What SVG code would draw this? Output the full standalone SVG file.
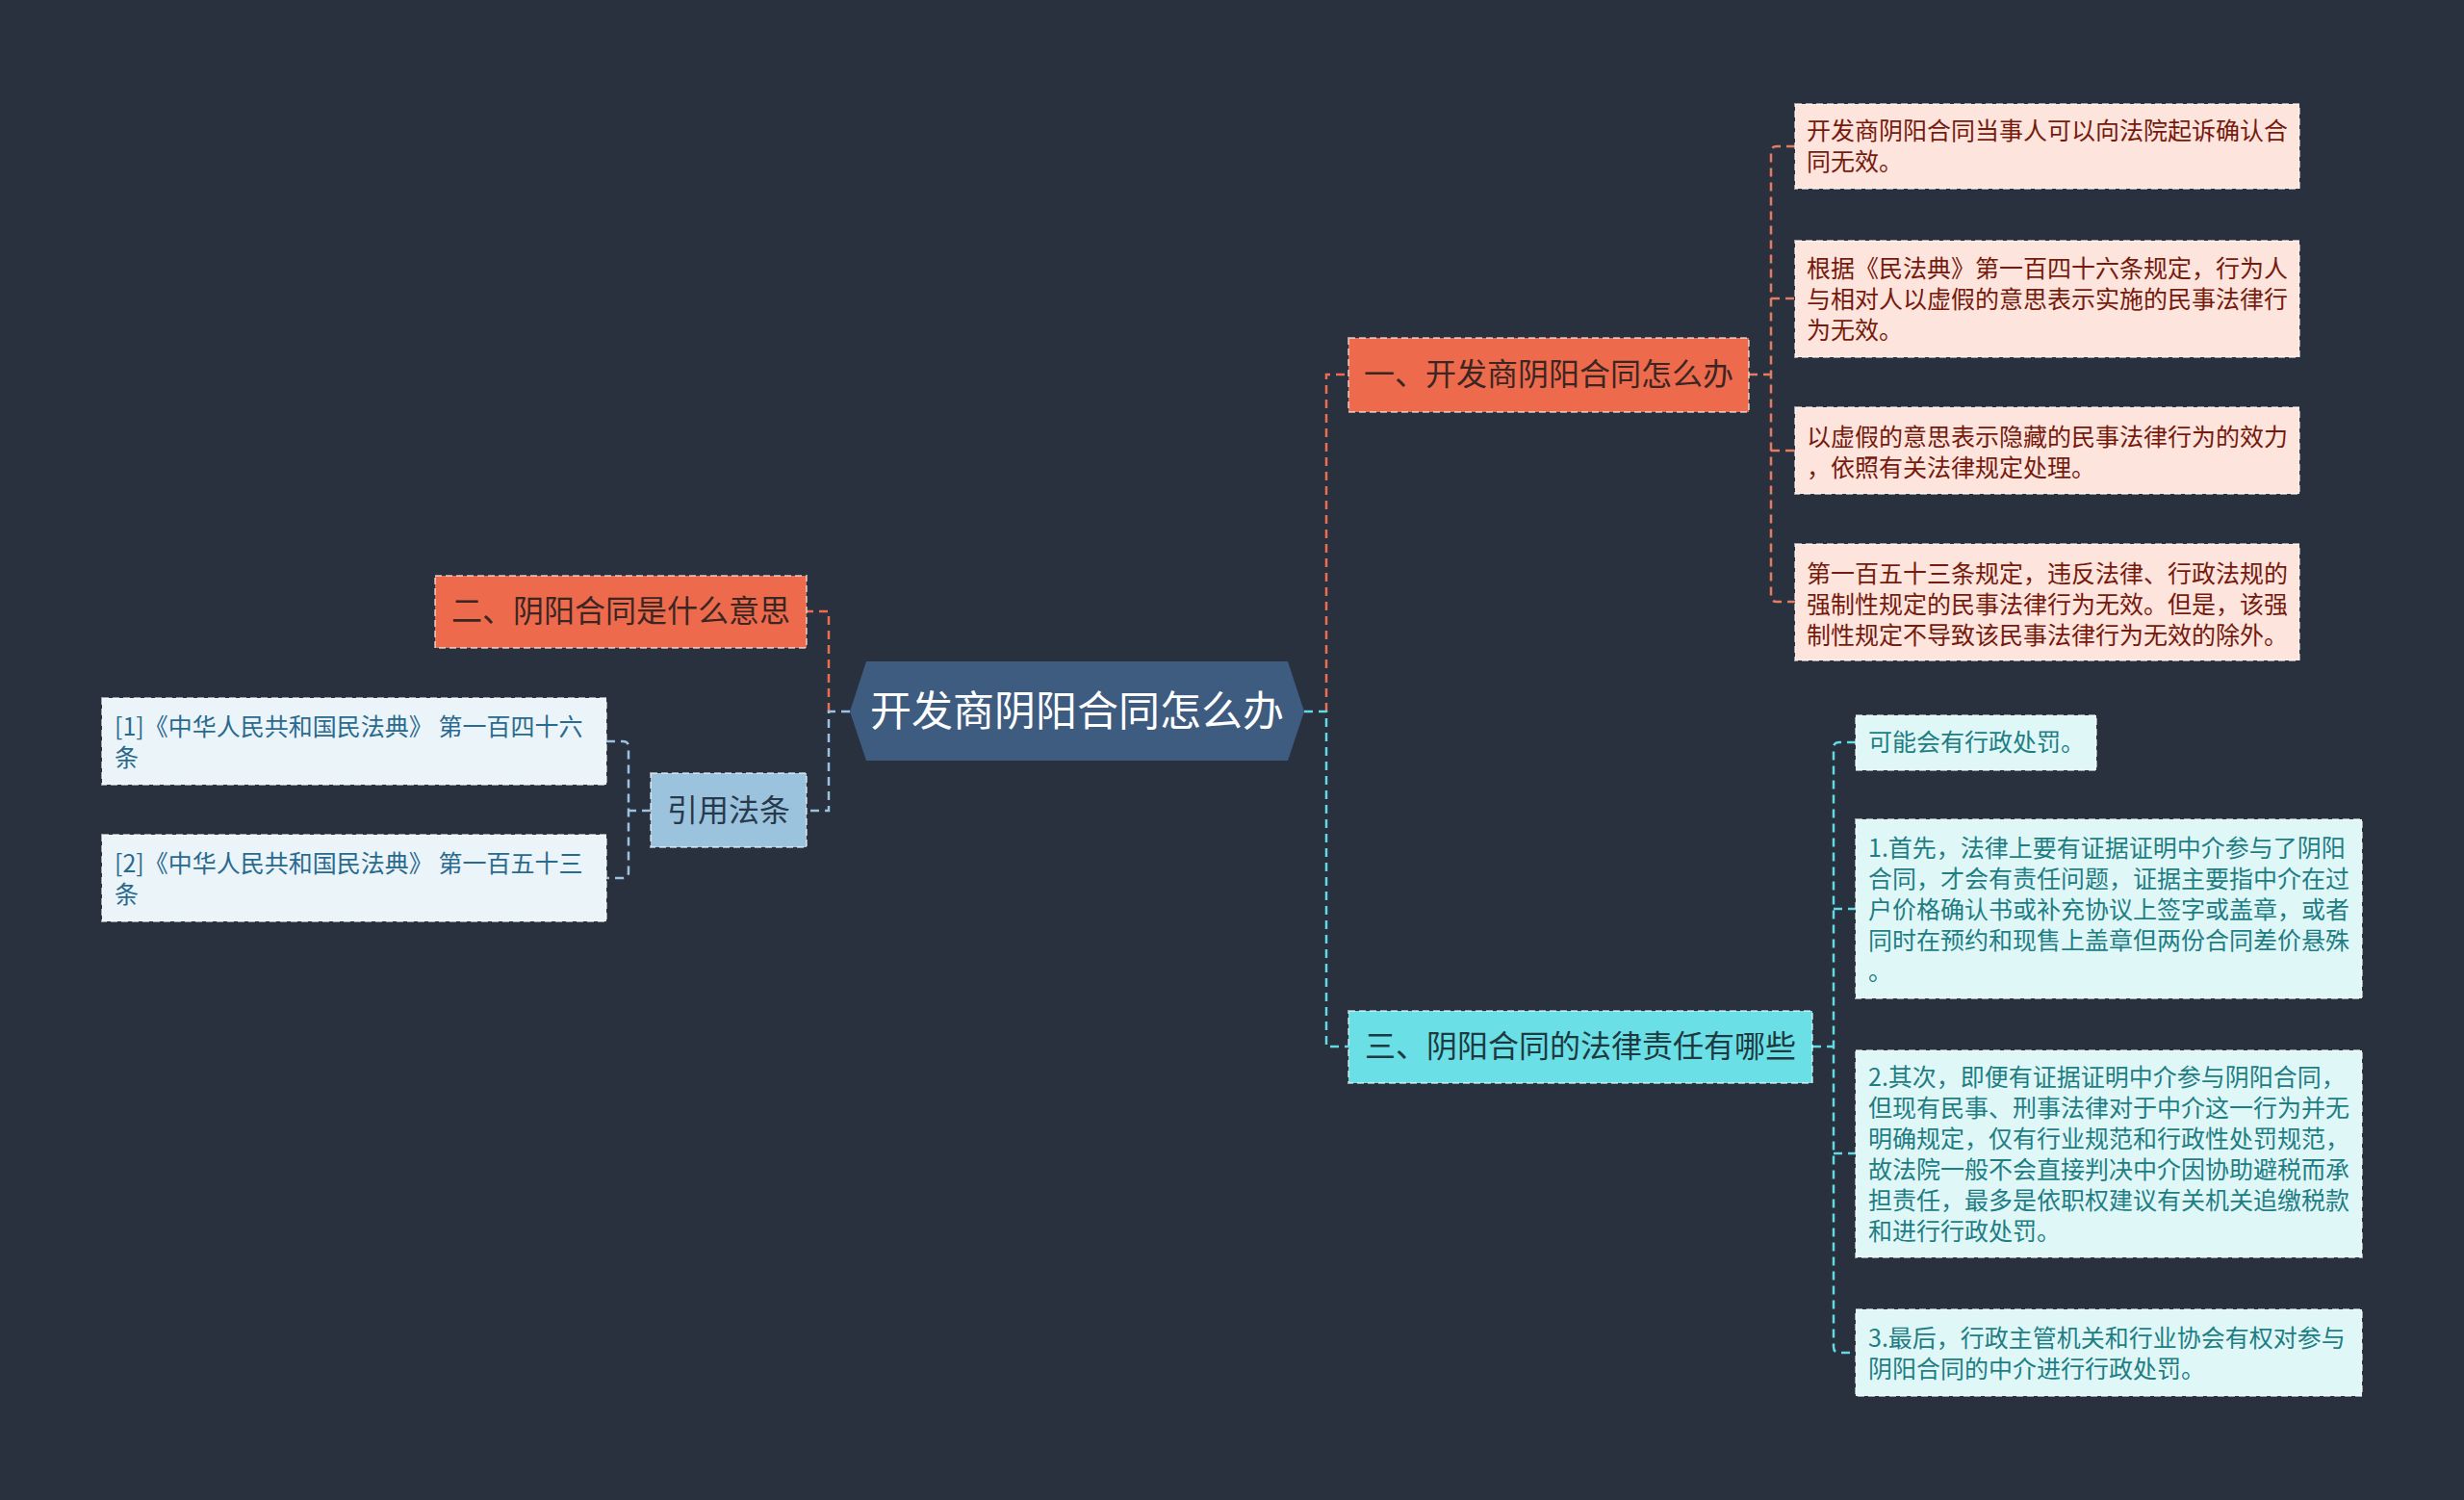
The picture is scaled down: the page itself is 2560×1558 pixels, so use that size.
<svg xmlns="http://www.w3.org/2000/svg" width="2560" height="1558" viewBox="0 0 2560 1558">
<style>
text{font-family:"Noto Sans CJK SC","Noto Sans",sans-serif;dominant-baseline:central}
.c{fill:none;stroke-width:2.5;stroke-dasharray:9 6}
.co{stroke:#ee6d50}
.cp{stroke:#e47c62}
.cc{stroke:#62d9e3}
.cb{stroke:#9cc3dd}
.box{stroke:#ffffff;stroke-opacity:.55;stroke-width:2;stroke-dasharray:7 4}
.main{font-size:43px;fill:#ffffff}
.br{font-size:32px}
.lf{font-size:25px}
</style>
<rect width="2560" height="1558" fill="#29313f"/>
<g id="connectors">
<path class="c co" d="M1378,739 V389 H1401"/>
<path class="c cc" d="M1355,739 H1378 V1087 H1401"/>
<path class="c co" d="M861,739 V635 H838"/>
<path class="c cb" d="M883,739 H861 V842 H838"/>
<path class="c cp" d="M1817,389 H1840 M1865,152 H1846 Q1840,152 1840,158 V619 Q1840,625 1846,625 H1865 M1840,310 H1865 M1840,468 H1865"/>
<path class="c cc" d="M1883,1087 H1905 M1928,771 H1911 Q1905,771 1905,777 V1399 Q1905,1405 1911,1405 H1928 M1905,944 H1928 M1905,1198 H1928"/>
<path class="c cb" d="M676,842 H653 M630,770 H647 Q653,770 653,776 V906 Q653,912 647,912 H630"/>
</g>
<g id="center">
<polygon points="883,739 900,687 1338,687 1355,739 1338,790 900,790" fill="#3e5b80"/>
<text class="main" x="1119" y="735" text-anchor="middle">开发商阴阳合同怎么办</text>
</g>
<g id="b1">
<rect class="box" x="1401" y="351" width="416" height="77" fill="#ee6a4d"/>
<text class="br" x="1609" y="386" text-anchor="middle" fill="#3b2622">一、开发商阴阳合同怎么办</text>
</g>
<g id="b2">
<rect class="box" x="452" y="598" width="386" height="75" fill="#ee6a4d"/>
<text class="br" x="645" y="632" text-anchor="middle" fill="#3b2622">二、阴阳合同是什么意思</text>
</g>
<g id="b3">
<rect class="box" x="676" y="803" width="162" height="77" fill="#9cc3dd"/>
<text class="br" x="757" y="839" text-anchor="middle" fill="#28394b">引用法条</text>
</g>
<g id="b4">
<rect class="box" x="1401" y="1050" width="482" height="75" fill="#6adfe6"/>
<text class="br" x="1642" y="1084" text-anchor="middle" fill="#1d3a40">三、阴阳合同的法律责任有哪些</text>
</g>
<g id="l1">
<rect class="box" x="1865" y="108" width="524" height="88" fill="#fde4dc"/>
<text class="lf" fill="#761a0e"><tspan x="1877" y="134">开发商阴阳合同当事人可以向法院起诉确认合</tspan><tspan x="1877" y="166">同无效。</tspan></text>
</g>
<g id="l2">
<rect class="box" x="1865" y="250" width="524" height="121" fill="#fde4dc"/>
<text class="lf" fill="#761a0e"><tspan x="1877" y="277">根据《民法典》第一百四十六条规定，行为人</tspan><tspan x="1877" y="309">与相对人以虚假的意思表示实施的民事法律行</tspan><tspan x="1877" y="341">为无效。</tspan></text>
</g>
<g id="l3">
<rect class="box" x="1865" y="423" width="524" height="90" fill="#fde4dc"/>
<text class="lf" fill="#761a0e"><tspan x="1877" y="452">以虚假的意思表示隐藏的民事法律行为的效力</tspan><tspan x="1877" y="484">，依照有关法律规定处理。</tspan></text>
</g>
<g id="l4">
<rect class="box" x="1865" y="565" width="524" height="121" fill="#fde4dc"/>
<text class="lf" fill="#761a0e"><tspan x="1877" y="594">第一百五十三条规定，违反法律、行政法规的</tspan><tspan x="1877" y="626">强制性规定的民事法律行为无效。但是，该强</tspan><tspan x="1877" y="658">制性规定不导致该民事法律行为无效的除外。</tspan></text>
</g>
<g id="l5">
<rect class="box" x="106" y="725" width="524" height="90" fill="#eaf4f9"/>
<text class="lf" fill="#2a6a8e"><tspan x="119" y="753">[1]《中华人民共和国民法典》 第一百四十六</tspan><tspan x="119" y="785">条</tspan></text>
</g>
<g id="l6">
<rect class="box" x="106" y="867" width="524" height="90" fill="#eaf4f9"/>
<text class="lf" fill="#2a6a8e"><tspan x="119" y="895">[2]《中华人民共和国民法典》 第一百五十三</tspan><tspan x="119" y="927">条</tspan></text>
</g>
<g id="l7">
<rect class="box" x="1928" y="743" width="250" height="57" fill="#e0f7f8"/>
<text class="lf" fill="#1f7e84"><tspan x="1941" y="769">可能会有行政处罚。</tspan></text>
</g>
<g id="l8">
<rect class="box" x="1928" y="851" width="526" height="186" fill="#e0f7f8"/>
<text class="lf" fill="#1f7e84"><tspan x="1941" y="879">1.首先，法律上要有证据证明中介参与了阴阳</tspan><tspan x="1941" y="911">合同，才会有责任问题，证据主要指中介在过</tspan><tspan x="1941" y="943">户价格确认书或补充协议上签字或盖章，或者</tspan><tspan x="1941" y="975">同时在预约和现售上盖章但两份合同差价悬殊</tspan><tspan x="1941" y="1007">。</tspan></text>
</g>
<g id="l9">
<rect class="box" x="1928" y="1091" width="526" height="215" fill="#e0f7f8"/>
<text class="lf" fill="#1f7e84"><tspan x="1941" y="1117">2.其次，即便有证据证明中介参与阴阳合同，</tspan><tspan x="1941" y="1149">但现有民事、刑事法律对于中介这一行为并无</tspan><tspan x="1941" y="1181">明确规定，仅有行业规范和行政性处罚规范，</tspan><tspan x="1941" y="1213">故法院一般不会直接判决中介因协助避税而承</tspan><tspan x="1941" y="1245">担责任，最多是依职权建议有关机关追缴税款</tspan><tspan x="1941" y="1277">和进行行政处罚。</tspan></text>
</g>
<g id="l10">
<rect class="box" x="1928" y="1360" width="526" height="90" fill="#e0f7f8"/>
<text class="lf" fill="#1f7e84"><tspan x="1941" y="1388">3.最后，行政主管机关和行业协会有权对参与</tspan><tspan x="1941" y="1420">阴阳合同的中介进行行政处罚。</tspan></text>
</g>
</svg>
